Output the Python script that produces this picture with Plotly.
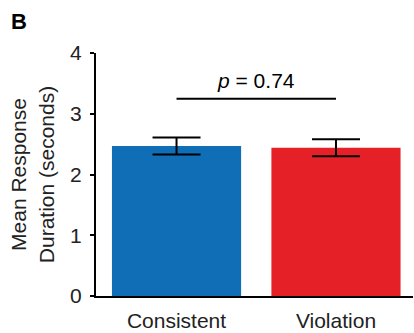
import plotly.graph_objects as go

categories = ["Consistent", "Violation"]
means = [2.47, 2.44]
errors = [0.14, 0.14]
colors = ["#106EB6", "#E62027"]
y_ticks = [0, 1, 2, 3, 4]
p_label = "<i>p</i> = 0.74"
sig_y = 3.245
p_text_y = 3.54

FONT = "Liberation Sans, Arial, sans-serif"

fig = go.Figure()
fig.add_trace(go.Bar(
    x=[0, 1], y=means, width=0.81,
    marker=dict(color=colors, line=dict(width=0)),
    error_y=dict(type="data", array=errors, visible=True, color="black",
                 thickness=2, width=24),
))

fig.add_shape(type="line", xref="x", yref="y", x0=0, x1=1, y0=sig_y, y1=sig_y,
              line=dict(color="black", width=2))
fig.add_annotation(x=0.5, y=p_text_y, xref="x", yref="y", text=p_label,
                   showarrow=False, font=dict(size=21, color="black", family=FONT))
fig.add_annotation(x=(19 - 96) / 317, y=(333 - 37 - 21) / 243.3, xref="paper", yref="paper",
                   text="<b>B</b>", xanchor="center", yanchor="middle",
                   showarrow=False, font=dict(size=22, color="black", family=FONT))

fig.update_layout(
    width=414, height=333,
    margin=dict(l=96, r=1, t=53, b=37, autoexpand=False),
    plot_bgcolor="white", paper_bgcolor="white",
    showlegend=False,
    font=dict(family=FONT, size=21, color="black"),
    xaxis=dict(
        range=[-0.505, 1.483], tickmode="array", tickvals=[0, 1], ticktext=categories,
        showline=True, linecolor="black", linewidth=2, showgrid=False, zeroline=False,
        ticks="outside", ticklen=5, tickcolor="rgba(0,0,0,0)",
        tickfont=dict(size=21, color="#222"), automargin=False,
    ),
    yaxis=dict(
        range=[0, 4], tickvals=y_ticks, showline=True, linecolor="black", linewidth=2,
        showgrid=False, zeroline=False, ticks="outside", ticklen=4, tickwidth=2,
        tickcolor="black", ticklabelstandoff=4, tickfont=dict(size=21, color="#222"),
        automargin=False,
        title=dict(text="Mean Response<br>Duration (seconds)", standoff=10,
                   font=dict(size=21, color="#222")),
    ),
)

fig.write_html("out.html", config={"displayModeBar": False},
               post_script="document.body.style.margin='0';document.body.style.overflow='hidden';")
